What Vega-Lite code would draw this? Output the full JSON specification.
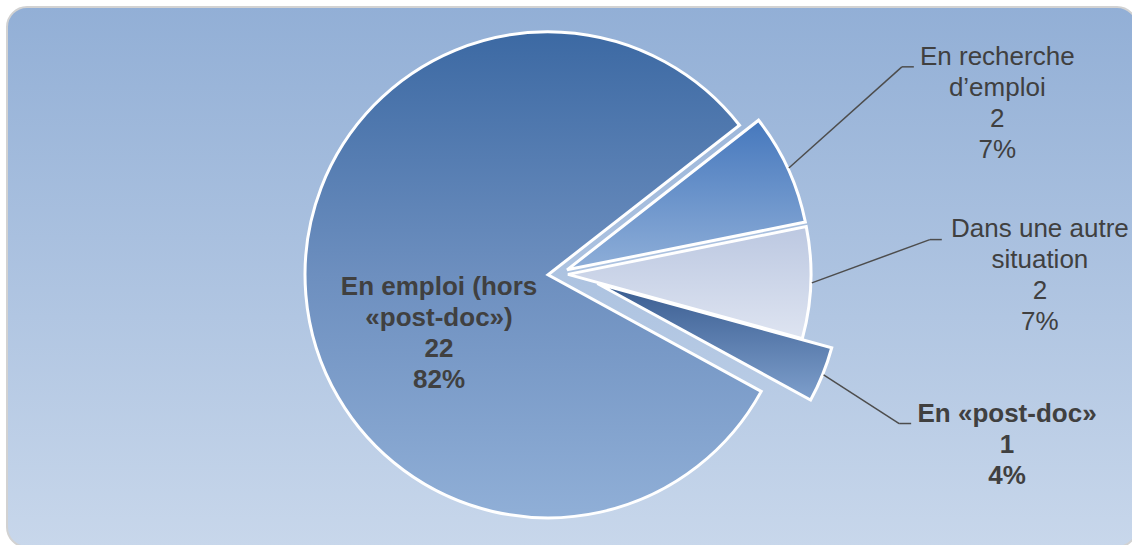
{
  "$schema": "https://vega.github.io/schema/vega-lite/v6.json",
  "width": 1132,
  "height": 545,
  "autosize": {"type": "fit", "contains": "padding"},
  "padding": {"left": 7, "top": 7, "right": -5, "bottom": -2},
  "background": "white",
  "view": {
    "fill": {"gradient": "linear", "x1": 0, "y1": 0, "x2": 0, "y2": 1, "stops": [{"offset": 0, "color": "#92AFD6"}, {"offset": 1, "color": "#C8D7EB"}]},
    "stroke": "#D2D2D2",
    "strokeWidth": 2,
    "cornerRadius": 20
  },
  "data": {
    "values": [
      {"cat": "En recherche d’emploi", "lab": "En recherche\nd’emploi", "n": 2, "pct": "7%", "ord": 1},
      {"cat": "Dans une autre situation", "lab": "Dans une autre\nsituation", "n": 2, "pct": "7%", "ord": 2},
      {"cat": "En «post-doc»", "lab": "En «post-doc»", "n": 1, "pct": "4%", "ord": 3},
      {"cat": "En emploi (hors «post-doc»)", "lab": "En emploi (hors\n«post-doc»)", "n": 22, "pct": "82%", "ord": 4}
    ]
  },
  "transform": [
    {"joinaggregate": [{"op": "sum", "field": "n", "as": "tot"}]},
    {"stack": "n", "groupby": [], "sort": [{"field": "ord", "order": "ascending"}], "as": ["s0", "s1"]},
    {"calculate": "0.9076 + PI*(datum.s0+datum.s1)/datum.tot", "as": "a"},
    {"calculate": "datum.ord===3 ? 0.166 : 0.041", "as": "e"},
    {"calculate": "datum.a + (datum.ord===3 ? -0.148 : 0)", "as": "ea"},
    {"calculate": "datum.e*sin(datum.ea)", "as": "ex"},
    {"calculate": "datum.e*cos(datum.ea)", "as": "ey"},
    {"calculate": "[0,1.931,1.975,1.970,0.546][datum.ord]", "as": "lr"},
    {"calculate": "[0,0.0606,-0.0314,-0.0192,-0.3857][datum.ord]", "as": "da"},
    {"calculate": "datum.lr*sin(datum.a+datum.da)", "as": "lx"},
    {"calculate": "datum.lr*cos(datum.a+datum.da)", "as": "ly"},
    {"calculate": "datum.ly + (length(split(datum.lab,'\\n'))+1)*31/2/244", "as": "lyt"},
    {"calculate": "datum.ex+sin(datum.a)", "as": "sx"},
    {"calculate": "datum.ey+cos(datum.a)", "as": "sy"},
    {"calculate": "datum.lx-[0,0.342,0.402,0.393,0][datum.ord]", "as": "tx"},
    {"calculate": "datum.ly+[0,0.151,0.148,0.090,0][datum.ord]", "as": "ty"},
    {"calculate": "datum.tx-0.049", "as": "mx"},
    {"calculate": "datum.lab+'\\n'+datum.n+'\\n'+datum.pct", "as": "txt"}
  ],
  "layer": [
    {
      "transform": [{"filter": "datum.ord===4"}],
      "mark": {"type": "arc", "outerRadius": 243, "stroke": "white", "strokeWidth": 3,
        "fill": {"gradient": "linear", "x1": 0, "y1": 0, "x2": 0, "y2": 1, "stops": [{"offset": 0, "color": "#3C69A3"}, {"offset": 0.5, "color": "#6D8FBF"}, {"offset": 1, "color": "#90AFD7"}]}},
      "encoding": {
        "x": {"field": "ex", "type": "quantitative", "scale": {"domain": [-2.2582, 2.373], "nice": false, "zero": false}, "axis": null, "stack": null},
        "y": {"field": "ey", "type": "quantitative", "scale": {"domain": [-1.1189, 1.0943], "nice": false, "zero": false}, "axis": null, "stack": null},
        "theta": {"field": "s0", "type": "quantitative", "scale": {"domain": [0, 27], "range": [0.9076, 7.1908]}, "stack": null},
        "theta2": {"field": "s1"}
      }
    },
    {
      "transform": [{"filter": "datum.ord===1"}],
      "mark": {"type": "arc", "outerRadius": 243, "stroke": "white", "strokeWidth": 3,
        "fill": {"gradient": "linear", "x1": 0, "y1": 0, "x2": 0, "y2": 1, "stops": [{"offset": 0, "color": "#4678BD"}, {"offset": 1, "color": "#8EAED8"}]}},
      "encoding": {
        "x": {"field": "ex", "type": "quantitative", "scale": {"domain": [-2.2582, 2.373], "nice": false, "zero": false}, "axis": null, "stack": null},
        "y": {"field": "ey", "type": "quantitative", "scale": {"domain": [-1.1189, 1.0943], "nice": false, "zero": false}, "axis": null, "stack": null},
        "theta": {"field": "s0", "type": "quantitative", "scale": {"domain": [0, 27], "range": [0.9076, 7.1908]}, "stack": null},
        "theta2": {"field": "s1"}
      }
    },
    {
      "transform": [{"filter": "datum.ord===2"}],
      "mark": {"type": "arc", "outerRadius": 243, "stroke": "white", "strokeWidth": 3,
        "fill": {"gradient": "linear", "x1": 0, "y1": 0, "x2": 0, "y2": 1, "stops": [{"offset": 0, "color": "#BCC8E1"}, {"offset": 1, "color": "#DEE4F1"}]}},
      "encoding": {
        "x": {"field": "ex", "type": "quantitative", "scale": {"domain": [-2.2582, 2.373], "nice": false, "zero": false}, "axis": null, "stack": null},
        "y": {"field": "ey", "type": "quantitative", "scale": {"domain": [-1.1189, 1.0943], "nice": false, "zero": false}, "axis": null, "stack": null},
        "theta": {"field": "s0", "type": "quantitative", "scale": {"domain": [0, 27], "range": [0.9076, 7.1908]}, "stack": null},
        "theta2": {"field": "s1"}
      }
    },
    {
      "transform": [{"filter": "datum.ord===3"}],
      "mark": {"type": "arc", "outerRadius": 243, "stroke": "white", "strokeWidth": 3,
        "fill": {"gradient": "linear", "x1": 0, "y1": 0, "x2": 0, "y2": 1, "stops": [{"offset": 0, "color": "#395C90"}, {"offset": 1, "color": "#7E9FCC"}]}},
      "encoding": {
        "x": {"field": "ex", "type": "quantitative", "scale": {"domain": [-2.2582, 2.373], "nice": false, "zero": false}, "axis": null, "stack": null},
        "y": {"field": "ey", "type": "quantitative", "scale": {"domain": [-1.1189, 1.0943], "nice": false, "zero": false}, "axis": null, "stack": null},
        "theta": {"field": "s0", "type": "quantitative", "scale": {"domain": [0, 27], "range": [0.9076, 7.1908]}, "stack": null},
        "theta2": {"field": "s1"}
      }
    },
    {
      "transform": [{"filter": "datum.ord<4"}],
      "mark": {"type": "rule", "color": "#4D4D4D", "strokeWidth": 1.5},
      "encoding": {
        "x": {"field": "sx", "type": "quantitative", "scale": {"domain": [-2.2582, 2.373], "nice": false, "zero": false}, "axis": null},
        "y": {"field": "sy", "type": "quantitative", "scale": {"domain": [-1.1189, 1.0943], "nice": false, "zero": false}, "axis": null},
        "x2": {"field": "mx"},
        "y2": {"field": "ty"}
      }
    },
    {
      "transform": [{"filter": "datum.ord<4"}],
      "mark": {"type": "rule", "color": "#4D4D4D", "strokeWidth": 1.5},
      "encoding": {
        "x": {"field": "mx", "type": "quantitative", "scale": {"domain": [-2.2582, 2.373], "nice": false, "zero": false}, "axis": null},
        "y": {"field": "ty", "type": "quantitative", "scale": {"domain": [-1.1189, 1.0943], "nice": false, "zero": false}, "axis": null},
        "x2": {"field": "tx"},
        "y2": {"field": "ty"}
      }
    },
    {
      "transform": [{"filter": "datum.ord<3"}],
      "mark": {"type": "text", "font": "Liberation Sans", "fontSize": 26, "lineHeight": 31, "color": "#404040", "align": "center", "baseline": "middle", "lineBreak": "\n"},
      "encoding": {
        "x": {"field": "lx", "type": "quantitative", "scale": {"domain": [-2.2582, 2.373], "nice": false, "zero": false}, "axis": null},
        "y": {"field": "lyt", "type": "quantitative", "scale": {"domain": [-1.1189, 1.0943], "nice": false, "zero": false}, "axis": null},
        "text": {"field": "txt", "type": "nominal"}
      }
    },
    {
      "transform": [{"filter": "datum.ord>=3"}],
      "mark": {"type": "text", "font": "Liberation Sans", "fontSize": 26, "fontWeight": "bold", "lineHeight": 31, "color": "#404040", "align": "center", "baseline": "middle", "lineBreak": "\n"},
      "encoding": {
        "x": {"field": "lx", "type": "quantitative", "scale": {"domain": [-2.2582, 2.373], "nice": false, "zero": false}, "axis": null},
        "y": {"field": "lyt", "type": "quantitative", "scale": {"domain": [-1.1189, 1.0943], "nice": false, "zero": false}, "axis": null},
        "text": {"field": "txt", "type": "nominal"}
      }
    }
  ]
}
